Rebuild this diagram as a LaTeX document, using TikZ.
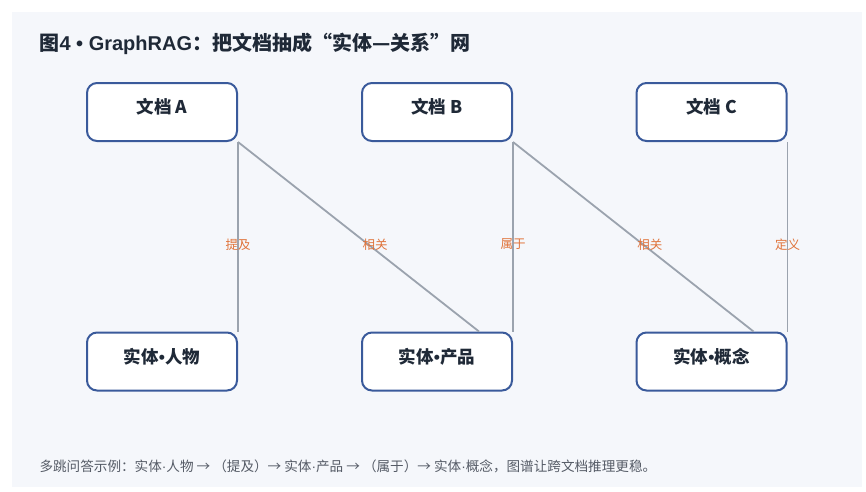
\documentclass[tikz,border=0pt]{standalone}
\usepackage{fontspec}
\setmainfont{Noto Sans CJK SC}
\newfontfamily\latinfont{Liberation Sans}
\newcommand{\dotsep}{{\latinfont •}}
\newcommand{\middot}{{\latinfont ·}}
\usepackage{xcolor}
\definecolor{panelbg}{HTML}{F5F7FB}
\definecolor{titleink}{HTML}{1F2937}
\definecolor{boxedge}{HTML}{3A5A9B}
\definecolor{linkgray}{HTML}{9BA3AE}
\definecolor{relorange}{HTML}{E0733A}
\definecolor{noteink}{HTML}{555B66}

\begin{document}
\begin{tikzpicture}[x=1pt, y=-1pt,
    docbox/.style={draw=boxedge, line width=2pt, fill=white, rounded corners=10pt,
        minimum width=150pt, minimum height=58pt, inner sep=0pt,
        text height=12pt, text depth=9pt, font=\fontsize{17.5}{20}\selectfont\bfseries, text=titleink},
    link/.style={draw=linkgray, line width=1.8pt},
    rel/.style={font=\fontsize{12.5}{14}\selectfont, text=relorange, inner sep=0pt}]
    \useasboundingbox (0,0) rectangle (866,491);
    \fill[panelbg] (12,12) rectangle (862,487);

    \node[anchor=west, font=\fontsize{20}{24}\selectfont\bfseries, text=titleink] (title) at (36,44)
        {图{\latinfont 4 • GraphRAG}：把文档抽成“实体—关系”网};

    % documents
    \node[docbox] (docA) at (162,112) {文档 A};
    \node[docbox] (docB) at (437,112) {文档 B};
    \node[docbox] (docC) at (711.5,112) {文档 C};

    % entities
    \node[docbox] (person) at (162,361.5) {实体\dotsep 人物};
    \node[docbox] (product) at (437,361.5) {实体\dotsep 产品};
    \node[docbox] (concept) at (711.5,361.5) {实体\dotsep 概念};

    \coordinate (productIn) at ([xshift=-34pt]product.north east);
    \coordinate (conceptIn) at ([xshift=-34pt]concept.north east);

    % relations
    \draw[link] (docA.south east) -- (person.north east) node[rel, pos=0.54] {提及};
    \draw[link] (docA.south east) -- (productIn) node[rel, pos=0.54, xshift=7pt] {相关};
    \draw[link] (docB.south east) -- (product.north east) node[rel, pos=0.54] {属于};
    \draw[link] (docB.south east) -- (conceptIn) node[rel, pos=0.54, xshift=7pt] {相关};
    \draw[link] (docC.south east) -- (concept.north east) node[rel, pos=0.54] {定义};

    \node[anchor=west, font=\fontsize{13.6}{16}\selectfont, text=noteink] (note) at (36,466)
        {多跳问答示例：实体\middot 人物 → （提及）→ 实体\middot 产品 → （属于）→ 实体\middot 概念，图谱让跨文档推理更稳。};
\end{tikzpicture}
\end{document}
